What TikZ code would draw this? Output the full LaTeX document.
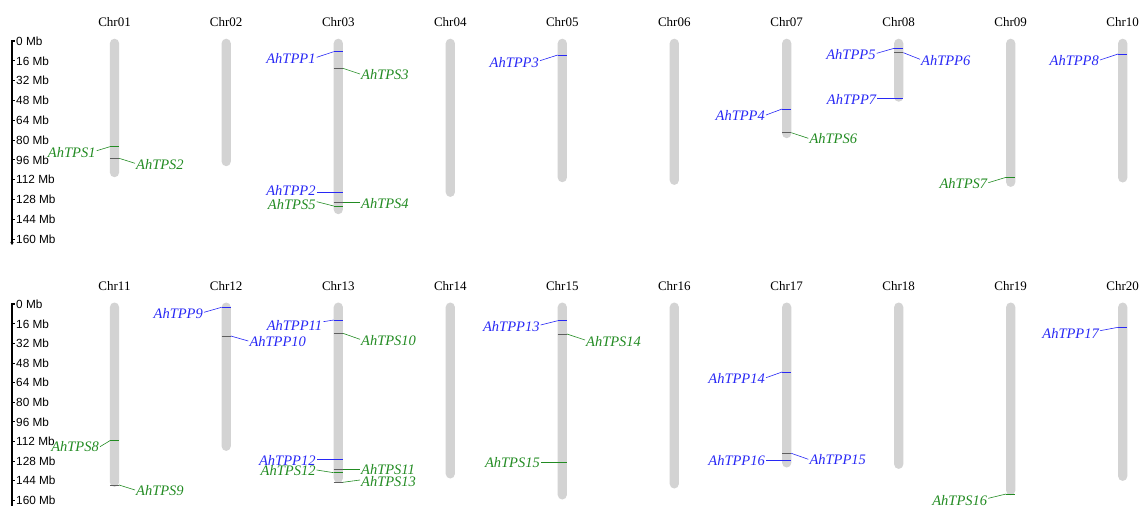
\documentclass[tikz,border=0pt]{standalone}
\usepackage{fontspec}
\setmainfont{Liberation Serif}
\newfontfamily\axfont{Liberation Sans}
\usetikzlibrary{arrows.meta}
\definecolor{tppc}{RGB}{40,40,245}
\definecolor{tpsc}{RGB}{34,139,34}
\definecolor{mkg}{RGB}{95,95,95}
\definecolor{chrc}{RGB}{211,211,211}
\tikzset{
  chrom/.style={fill=chrc, draw=none, rounded corners=4.6pt, minimum width=9.2pt, inner sep=0pt, anchor=north},
  ctitle/.style={font=\fontsize{13}{15}\selectfont, inner sep=0pt},
  gtext/.style={font=\fontsize{14.5}{17}\selectfont\itshape, inner sep=1pt},
  tpp/.style={color=tppc},
  tps/.style={color=tpsc},
  gmk/.style={color=mkg},
  mk/.style={line width=0.9pt},
  cn/.style={line width=0.6pt},
  axline/.style={line width=1.4pt, black},
  axtick/.style={line width=0.9pt, black},
  axlab/.style={font=\axfont\fontsize{11.8}{14}\selectfont, inner sep=0pt, anchor=west},
}
% chromosome: id, title, cx, top, bottom
\newcommand\mkchr[5]{%
  \node[chrom, minimum height={(#5-#4)*1pt}] (#1) at (#3,#4) {};
  \node[ctitle] (#1t) at (#3,#4-16.5) {#2};
}
% gene on left: name, colour style, marker style, cx, marker y, end x, end y, label y
\newcommand\gl[8]{%
  \coordinate (#1a) at (#4-4.6,#5);
  \coordinate (#1b) at (#4+4.6,#5);
  \node[gtext,#2,anchor=east] (#1) at (#6,#8) {#1};
  \draw[mk,#3] (#1a) -- (#1b);
  \draw[cn,#2] (#1a) -- ([yshift={(#8-#7)*1pt}]#1.east);
}
\newcommand\gr[8]{%
  \coordinate (#1a) at (#4-4.6,#5);
  \coordinate (#1b) at (#4+4.6,#5);
  \node[gtext,#2,anchor=west] (#1) at (#6,#8) {#1};
  \draw[mk,#3] (#1a) -- (#1b);
  \draw[cn,#2] (#1b) -- ([yshift={(#8-#7)*1pt}]#1.west);
}
\begin{document}
\begin{tikzpicture}[x=1pt,y=-1pt]
\useasboundingbox (0,0) rectangle (1141,506);
% ---------- axes ----------
\foreach \i in {0,...,10} {
  \pgfmathsetmacro\yy{41+19.8*\i}
  \pgfmathtruncatemacro\mb{16*\i}
  \draw[axtick] (12,\yy) -- (14.5,\yy);
  \node[axlab] (axa\i) at (16,\yy) {\mb\ Mb};
}
\draw[axline, -{Stealth[length=3pt,width=3.5pt]}] (14.5,40.3) -- (12,40.3) -- (12,245);
\foreach \i in {0,...,10} {
  \pgfmathsetmacro\yy{304.3+19.6*\i}
  \pgfmathtruncatemacro\mb{16*\i}
  \draw[axtick] (12,\yy) -- (14.5,\yy);
  \node[axlab] (axb\i) at (16,\yy) {\mb\ Mb};
}
\draw[axline] (14.5,303.6) -- (12,303.6) -- (12,506);
% ---------- chromosomes ----------
\mkchr{c01}{Chr01}{114.5}{38.5}{177}
\mkchr{c02}{Chr02}{226.2}{38.5}{166}
\mkchr{c03}{Chr03}{338.3}{38.5}{214}
\mkchr{c04}{Chr04}{450.3}{38.5}{196.7}
\mkchr{c05}{Chr05}{562.3}{38.5}{182}
\mkchr{c06}{Chr06}{674.3}{38.5}{184.7}
\mkchr{c07}{Chr07}{786.7}{38.5}{138}
\mkchr{c08}{Chr08}{898.7}{38.5}{101.5}
\mkchr{c09}{Chr09}{1010.7}{38.5}{186.7}
\mkchr{c10}{Chr10}{1122.7}{38.5}{182.3}
\mkchr{c11}{Chr11}{114.5}{302.3}{486.7}
\mkchr{c12}{Chr12}{226.2}{302.3}{450.7}
\mkchr{c13}{Chr13}{338.3}{302.3}{482.7}
\mkchr{c14}{Chr14}{450.3}{302.3}{478.3}
\mkchr{c15}{Chr15}{562.3}{302.3}{499.3}
\mkchr{c16}{Chr16}{674.3}{302.3}{488.3}
\mkchr{c17}{Chr17}{786.7}{302.3}{467.3}
\mkchr{c18}{Chr18}{898.7}{302.3}{468.7}
\mkchr{c19}{Chr19}{1010.7}{302.3}{495}
\mkchr{c20}{Chr20}{1122.7}{302.3}{480.7}
% ---------- genes, top row ----------
\gl{AhTPS1}{tps}{tps}{114.5}{146.7}{96.7}{150.7}{153}
\gr{AhTPS2}{tps}{gmk}{114.5}{158.3}{135}{163.3}{164.5}
\gl{AhTPP1}{tpp}{tpp}{338.3}{51.7}{316.7}{57.3}{58.5}
\gr{AhTPS3}{tps}{gmk}{338.3}{68.3}{360}{74}{74.7}
\gl{AhTPP2}{tpp}{tpp}{338.3}{192.3}{316.7}{192.3}{190}
\gr{AhTPS4}{tps}{gmk}{338.3}{202.3}{360}{202.3}{203.3}
\gl{AhTPS5}{tps}{tps}{338.3}{206}{316.7}{201.7}{204.3}
\gl{AhTPP3}{tpp}{tpp}{562.3}{55}{540}{60.7}{62.5}
\gl{AhTPP4}{tpp}{tpp}{786.7}{109}{766}{115}{115.5}
\gr{AhTPS6}{tps}{gmk}{786.7}{132.7}{808.3}{138.3}{138.7}
\gl{AhTPP5}{tpp}{tpp}{898.7}{48.3}{876.7}{53.3}{54.5}
\gr{AhTPP6}{tpp}{gmk}{898.7}{52.7}{920}{59.3}{60.3}
\gl{AhTPP7}{tpp}{tpp}{898.7}{98.3}{877.3}{98.3}{99}
\gl{AhTPS7}{tps}{tps}{1010.7}{177.3}{988.3}{182.7}{184}
\gl{AhTPP8}{tpp}{tpp}{1122.7}{54}{1100}{60}{60.5}
% ---------- genes, bottom row ----------
\gl{AhTPS8}{tps}{tps}{114.5}{440.7}{100}{446.7}{447}
\gr{AhTPS9}{tps}{gmk}{114.5}{485}{135}{490}{490.3}
\gl{AhTPP9}{tpp}{tpp}{226.2}{307.3}{204}{312.3}{313.5}
\gr{AhTPP10}{tpp}{gmk}{226.2}{336}{248.3}{341}{341.3}
\gl{AhTPP11}{tpp}{tpp}{338.3}{320}{323.3}{321.7}{325.3}
\gr{AhTPS10}{tps}{gmk}{338.3}{333.3}{360}{339.3}{340.3}
\gl{AhTPP12}{tpp}{tpp}{338.3}{459.3}{316.7}{459.3}{460}
\gr{AhTPS11}{tps}{gmk}{338.3}{469}{360}{469}{470}
\gl{AhTPS12}{tps}{tps}{338.3}{472.7}{316.7}{470}{471}
\gr{AhTPS13}{tps}{gmk}{338.3}{482.3}{360}{480}{482}
\gl{AhTPP13}{tpp}{tpp}{562.3}{320.7}{540.7}{325}{326.3}
\gr{AhTPS14}{tps}{gmk}{562.3}{334}{585}{340}{341.3}
\gl{AhTPS15}{tps}{tps}{562.3}{462}{541}{462}{462.3}
\gl{AhTPP14}{tpp}{tpp}{786.7}{372}{766}{377.7}{378.7}
\gr{AhTPP15}{tpp}{gmk}{786.7}{453.3}{808.3}{459.3}{459.3}
\gl{AhTPP16}{tpp}{tpp}{786.7}{460.3}{766}{460.3}{461}
\gl{AhTPS16}{tps}{tps}{1010.7}{494}{988.3}{498.3}{500.3}
\gl{AhTPP17}{tpp}{tpp}{1122.7}{327.3}{1100}{330.7}{333.5}
\end{tikzpicture}
\end{document}
